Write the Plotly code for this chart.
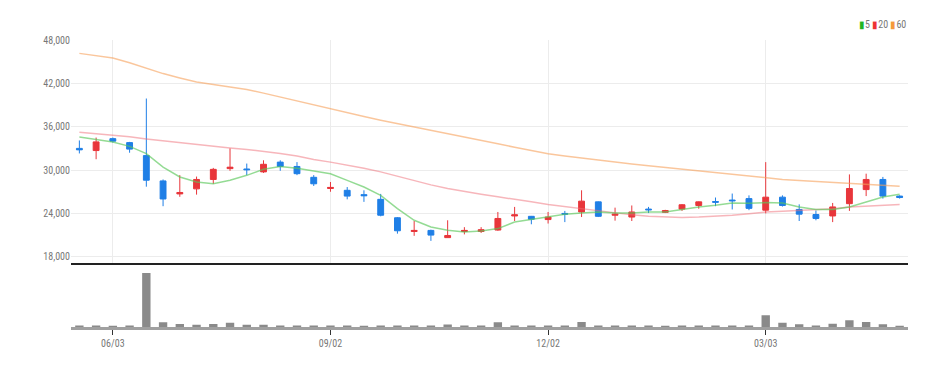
import pandas as pd
import plotly.graph_objects as go

dates = [d.strftime("%Y-%m-%d") for d in pd.date_range("2024-05-20", periods=50, freq="7D")]

opens = [33000, 32700, 34350, 33800, 32000, 28500, 26700, 27400, 28700, 30200,
         30150, 29750, 31100, 30500, 29000, 27450, 27200, 26600, 25950, 23400,
         21500, 21650, 20650, 21500, 21500, 21700, 23650, 23600, 23150, 24000,
         24200, 25600, 23750, 23500, 24600, 24150, 24600, 25100, 25650, 25850,
         26050, 24450, 26250, 24550, 23850, 23650, 25350, 27300, 28700, 26400]
highs = [34100, 34500, 34500, 33900, 39900, 28700, 29300, 29100, 30300, 33000,
         30900, 31350, 31350, 31100, 29300, 28350, 27650, 27200, 26700, 23500,
         22950, 21750, 23050, 22100, 22100, 24200, 24900, 23650, 24200, 24350,
         27200, 25650, 24800, 25100, 24900, 24500, 25300, 25650, 26200, 26750,
         26500, 31100, 26500, 25250, 24400, 25450, 29400, 29500, 29050, 26500]
lows = [32300, 31500, 33800, 32400, 27700, 25000, 26300, 26600, 28100, 29900,
        29300, 29600, 29900, 29300, 27800, 27000, 25950, 25600, 23600, 21200,
        20900, 20200, 20650, 21100, 21300, 21600, 22950, 22500, 22600, 22800,
        23500, 23500, 23000, 22950, 24050, 24050, 24350, 24650, 25000, 24550,
        24450, 24000, 24950, 22950, 23050, 22800, 24350, 26400, 26050, 26050]
closes = [32800, 33900, 34000, 32900, 28600, 26000, 26900, 28700, 30100, 30400,
          30050, 30800, 30500, 29500, 28100, 27600, 26400, 26450, 23750, 21600,
          21650, 21000, 20950, 21650, 21750, 23300, 23800, 23200, 23500, 23900,
          25700, 23600, 23900, 24200, 24500, 24400, 25200, 25600, 25550, 25750,
          24700, 26250, 25100, 23900, 23300, 24900, 27450, 28700, 26400, 26200]

ma5 = [34570, 34200, 33880, 33280, 32270, 30420, 29040, 28350, 28120, 28580,
       29270, 30100, 30500, 30250, 29900, 29500, 28580, 27650, 26510, 24670,
       23050, 22120, 21660, 21430, 21570, 21900, 22810, 23190, 23500, 23880,
       24060, 24200, 24060, 24060, 24200, 24200, 24530, 24890, 25120, 25440,
       25400, 25500, 25440, 24890, 24530, 24530, 24890, 25580, 26270, 26640]
ma20 = [35250, 35050, 34850, 34600, 34300, 34050, 33800, 33450, 33250, 33050,
        32850, 32600, 32300, 31950, 31450, 31100, 30700, 30250, 29750, 29150,
        28500, 27950, 27450, 27000, 26650, 26300, 26000, 25600, 25250, 24950,
        24650, 24350, 24050, 23800, 23600, 23500, 23450, 23500, 23600, 23750,
        23950, 24200, 24300, 24400, 24450, 24650, 24900, 25050, 25150, 25250]
ma60 = [46150, 45850, 45500, 44850, 44100, 43350, 42750, 42200, 41850, 41500,
        41150, 40650, 40100, 39550, 38950, 38450, 37950, 37400, 36900, 36450,
        36000, 35500, 35050, 34550, 34100, 33650, 33150, 32700, 32250, 31950,
        31650, 31350, 31100, 30850, 30600, 30350, 30100, 29850, 29600, 29350,
        29100, 28850, 28700, 28550, 28400, 28250, 28100, 27950, 27850, 27750]

volume = [40000, 40000, 8000, 40000, 1350000, 118000, 75000, 58000, 75000, 108000,
          58000, 58000, 40000, 40000, 40000, 40000, 40000, 8000, 40000, 40000,
          40000, 40000, 60000, 40000, 40000, 118000, 40000, 40000, 40000, 40000,
          125000, 40000, 40000, 40000, 40000, 8000, 40000, 40000, 40000, 40000,
          40000, 292000, 108000, 68000, 40000, 83000, 168000, 125000, 68000, 8000]

tick_idx = [2, 15, 28, 41]
tick_text = ["06/03", "09/02", "12/02", "03/03"]
price_ticks = [18000, 24000, 30000, 36000, 42000, 48000]

UP = "#e8363b"
DOWN = "#1f7fe6"
FONT = "Liberation Sans Narrow, Arial Narrow, Roboto Condensed, Liberation Sans, sans-serif"

fig = go.Figure()
fig.add_trace(go.Candlestick(
    x=dates, open=opens, high=highs, low=lows, close=closes,
    increasing=dict(line=dict(color=UP, width=1), fillcolor=UP),
    decreasing=dict(line=dict(color=DOWN, width=1), fillcolor=DOWN),
    whiskerwidth=0, showlegend=False, xaxis="x", yaxis="y"))
fig.add_trace(go.Scatter(x=dates, y=ma60, mode="lines",
                         line=dict(color="rgba(247,160,90,0.6)", width=1.5),
                         showlegend=False, xaxis="x", yaxis="y"))
fig.add_trace(go.Scatter(x=dates, y=ma20, mode="lines",
                         line=dict(color="rgba(240,110,120,0.5)", width=1.5),
                         showlegend=False, xaxis="x", yaxis="y"))
fig.add_trace(go.Scatter(x=dates, y=ma5, mode="lines",
                         line=dict(color="rgba(90,200,90,0.65)", width=1.5),
                         showlegend=False, xaxis="x", yaxis="y"))
fig.add_trace(go.Bar(x=dates, y=volume, marker=dict(color="#8a8a8a", line=dict(width=0)),
                     showlegend=False, xaxis="x2", yaxis="y2"))

tickvals = [dates[i] for i in tick_idx]

fig.update_layout(
    width=936, height=350,
    margin=dict(l=63, r=36, t=32, b=31),
    paper_bgcolor="white", plot_bgcolor="white",
    boxgap=0.5, bargap=0.5,
    font=dict(family=FONT, size=10, color="#777"),
    xaxis=dict(type="category", range=[-0.5, 49.5], domain=[0, 1], anchor="y",
               tickvals=tickvals, ticktext=tick_text, showticklabels=False,
               showgrid=True, gridcolor="#ececec", gridwidth=1,
               showline=True, linecolor="#222", linewidth=2, automargin=False,
               rangeslider=dict(visible=False), zeroline=False, ticks=""),
    yaxis=dict(domain=[0.222, 1], range=[17100, 48000], tickvals=price_ticks,
               tickformat=",", showgrid=True, gridcolor="#ececec", gridwidth=1,
               zeroline=False, ticks="", showline=False, automargin=False),
    xaxis2=dict(type="category", range=[-0.5, 49.5], domain=[0, 1], anchor="y2",
                tickvals=tickvals, ticktext=tick_text, showgrid=False,
                showline=True, linecolor="#a0a0a0", linewidth=3, layer="below traces",
                ticks="outside", ticklen=5, tickcolor="#333", tickwidth=1,
                zeroline=False, automargin=False, tickfont=dict(size=10, color="#777")),
    yaxis2=dict(domain=[0, 0.213], range=[0, 1525000], visible=False),
    hovermode=False,
)

legend_text = ('<span style="color:#22b522">▮</span>5 '
               '<span style="color:#ee3333">▮</span>20 '
               '<span style="color:#f59a3a">▮</span>60')
fig.add_annotation(text=legend_text, xref="paper", yref="paper", x=1, y=1 + 15 / 287,
                   xanchor="right", yanchor="middle", showarrow=False,
                   font=dict(size=10, color="#777", family=FONT))

fig.write_html("out.html")
